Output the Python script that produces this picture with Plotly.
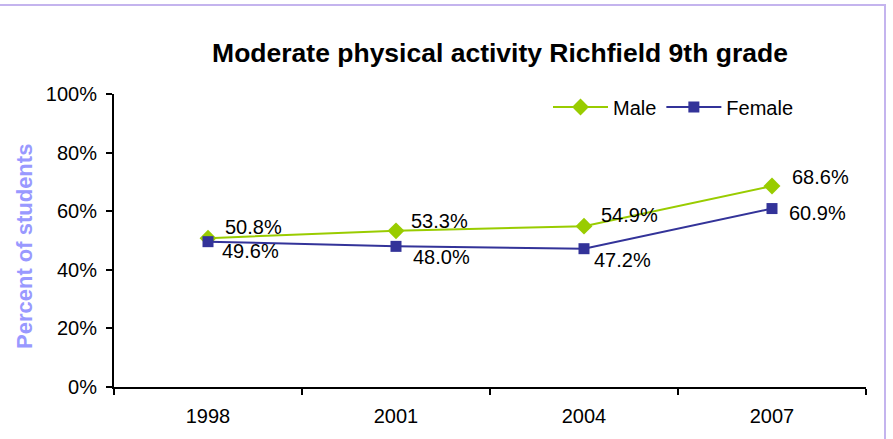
import plotly.graph_objects as go

# Survey years and percentages of 9th graders reporting moderate physical activity
years = ["1998", "2001", "2004", "2007"]
male = [50.8, 53.3, 54.9, 68.6]
female = [49.6, 48.0, 47.2, 60.9]
y_ticks = [0, 20, 40, 60, 80, 100]
y_tick_labels = [f"{v}%" for v in y_ticks]

MALE_COLOR = "#99CC00"
FEMALE_COLOR = "#333399"
FONT = "Liberation Sans, Arial, sans-serif"

W, H = 893, 439
L, R, T, B = 114, 27, 94, 52
pw, ph = W - L - R, H - T - B

# label offsets in pixels (right of the marker, above / below it)
male_dx = [15, 13, 15, 18]
male_dy = [11, 10, 11, 9]
female_dx = [12, 15, 8, 15]
female_dy = [-9, -11, -11, -4]

fig = go.Figure()
fig.add_trace(go.Scatter(
    x=years, y=male, name="Male", mode="lines+markers",
    line=dict(color=MALE_COLOR, width=2),
    marker=dict(symbol="diamond", size=13, color=MALE_COLOR),
))
fig.add_trace(go.Scatter(
    x=years, y=female, name="Female", mode="lines+markers",
    line=dict(color=FEMALE_COLOR, width=2),
    marker=dict(symbol="square", size=11, color=FEMALE_COLOR),
))

annotations = []
for vals, dxs, dys in ((male, male_dx, male_dy), (female, female_dx, female_dy)):
    for i, (v, dx, dy) in enumerate(zip(vals, dxs, dys)):
        annotations.append(dict(
            x=i, y=v, xref="x", yref="y", text=f"{v:.1f}%",
            showarrow=False, xanchor="left", yanchor="middle",
            xshift=dx, yshift=dy,
            font=dict(family=FONT, size=20, color="black"),
        ))

# y-axis title placed beside the tick labels
annotations.append(dict(
    text="<b>Percent of students</b>", textangle=-90,
    xref="paper", yref="paper", x=(24 - L) / pw, y=(H - B - 247) / ph,
    xanchor="center", yanchor="middle", showarrow=False,
    font=dict(family=FONT, size=22, color="#9999FF"),
))

# outer chart frame (partially cropped on the left and bottom)
fig.add_shape(
    type="rect", xref="paper", yref="paper",
    x0=(-10 - L) / pw, x1=(885 - L) / pw,
    y0=(H - B - 460) / ph, y1=(H - B - 5) / ph,
    line=dict(color="#C4B4EE", width=2), fillcolor="rgba(0,0,0,0)",
    layer="below",
)

fig.update_layout(
    width=W, height=H,
    margin=dict(l=L, r=R, t=T, b=B),
    paper_bgcolor="white", plot_bgcolor="white",
    font=dict(family=FONT, size=20, color="black"),
    title=dict(
        text="<b>Moderate physical activity Richfield 9th grade</b>",
        font=dict(family=FONT, size=26.5, color="black"),
        x=(500 - L) / pw, xref="paper", xanchor="center",
        y=1 - 53 / H, yref="container", yanchor="middle",
    ),
    showlegend=True,
    legend=dict(
        orientation="h", x=(548 - L) / pw, y=(H - B - 107) / ph,
        xanchor="left", yanchor="middle", bgcolor="rgba(0,0,0,0)",
        font=dict(family=FONT, size=20, color="black"),
        itemwidth=55,
    ),
    annotations=annotations,
    xaxis=dict(
        type="category", categoryorder="array", categoryarray=years,
        range=[-0.5, len(years) - 0.5],
        showgrid=False, zeroline=False,
        showline=True, linecolor="black", linewidth=2,
        ticks="outside", tickson="boundaries", ticklen=6, tickwidth=2,
        tickcolor="black", ticklabelstandoff=10,
        tickfont=dict(family=FONT, size=20, color="black"),
    ),
    yaxis=dict(
        range=[0, 100], tickmode="array", tickvals=y_ticks, ticktext=y_tick_labels,
        showgrid=False, zeroline=False,
        showline=True, linecolor="black", linewidth=2,
        ticks="outside", ticklen=6, tickwidth=2, tickcolor="black",
        ticklabelstandoff=5,
        tickfont=dict(family=FONT, size=20, color="black"),
    ),
)

fig.write_html("out.html")
